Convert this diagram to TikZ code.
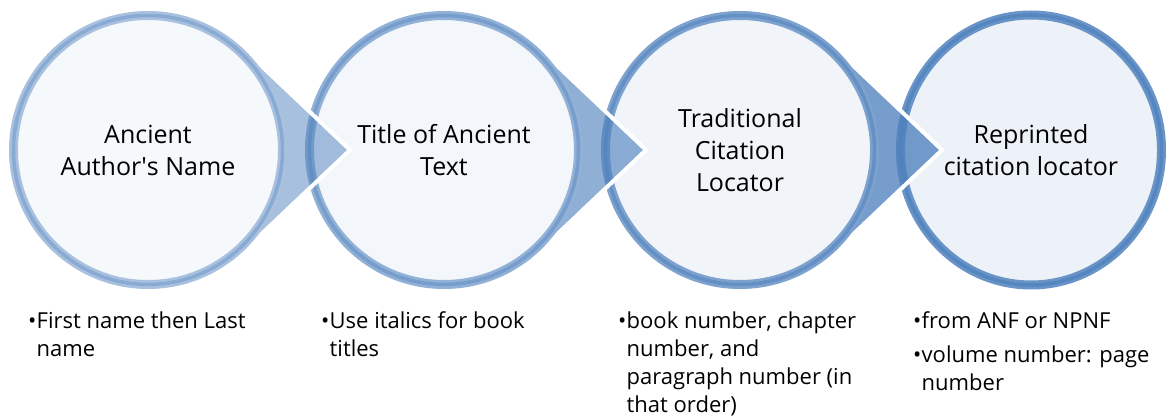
\documentclass[tikz,border=0pt]{standalone}
\usepackage{fontspec}
\setmainfont{Open Sans}
\usepackage{xcolor}
\usepackage{tikz}
\usetikzlibrary{positioning,calc,shapes.geometric}
\definecolor{accent}{HTML}{4F81BD}
\tikzstyle{stage} = [circle, inner sep=0pt, minimum size=269pt, line width=9pt,
    align=center, font=\fontsize{25}{32}\selectfont]
\tikzstyle{pointer} = [fill=accent]
\tikzstyle{edge} = [draw=white, line width=4pt, line join=miter]
\tikzstyle{notes} = [anchor=north west, align=left, inner sep=0pt,
    font=\fontsize{22}{28}\selectfont]
\newcommand{\bul}{\strut\makebox[8.5pt][l]{\fontsize{22}{22}\selectfont\textbullet}}
\newcommand{\ind}{\hspace*{8.5pt}}

\begin{document}
\begin{tikzpicture}[x=1pt, y=1pt, node distance=296pt]
\useasboundingbox (0,0) rectangle (1166,418);
    % Merkezleri yerleştir
    \coordinate (c1) at (148,268);
    \coordinate [right of=c1] (c2);
    \coordinate [right of=c2] (c3);
    \coordinate [right of=c3] (c4);
    % Sağdan sola: çember, sonra ok
    \node [stage, ellipse, minimum width=261pt, minimum height=270pt,
        draw=accent!85!white, fill=accent!10!white,
        postaction={draw=accent!96!white, line width=3.5pt}] (reprint) at ($(c4)+(-5,0)$)
        {Reprinted\\citation locator};
    \path [pointer, fill opacity=0.78] ($(c3)+(46.5:139pt)$) -- ($(c3)+(202,0)$)
        -- ($(c3)+(-46.5:139pt)$) -- (c3) -- cycle;
    \draw [edge] ($(c3)+(46.5:139pt)$) -- ($(c3)+(202,0)$) -- ($(c3)+(-46.5:139pt)$);
    \node [stage, draw=accent!74!white, fill=accent!8!white,
        postaction={draw=accent!88!white, line width=3.5pt}] (locator) at (c3)
        {Traditional\\Citation\\Locator};
    \path [pointer, fill opacity=0.63] ($(c2)+(46.5:139pt)$) -- ($(c2)+(202,0)$)
        -- ($(c2)+(-46.5:139pt)$) -- (c2) -- cycle;
    \draw [edge] ($(c2)+(46.5:139pt)$) -- ($(c2)+(202,0)$) -- ($(c2)+(-46.5:139pt)$);
    \node [stage, draw=accent!62!white, fill=accent!7!white,
        postaction={draw=accent!78!white, line width=3.5pt}] (title) at (c2)
        {Title of Ancient\\Text};
    \path [pointer, fill opacity=0.5] ($(c1)+(46.5:139pt)$) -- ($(c1)+(202,0)$)
        -- ($(c1)+(-46.5:139pt)$) -- (c1) -- cycle;
    \draw [edge] ($(c1)+(46.5:139pt)$) -- ($(c1)+(202,0)$) -- ($(c1)+(-46.5:139pt)$);
    \node [stage, draw=accent!49!white, fill=accent!5!white,
        postaction={draw=accent!67!white, line width=3.5pt}] (author) at (c1)
        {Ancient\\Author\textquotesingle s Name};
    % Açıklamalar
    \node [notes] (authornote) at ($(c1)+(-120,-159)$)
        {\bul First name then Last\\\ind name};
    \node [notes] (titlenote) at ($(c2)+(-123,-159)$)
        {\bul Use italics for book\\\ind titles};
    \node [notes] (locatornote) at ($(c3)+(-122,-159)$)
        {\bul book number, chapter\\\ind number, and\\\ind paragraph number (in\\\ind that order)};
    \node [notes] (reprintnote) at ($(c4)+(-123,-159)$)
        {\bul from ANF or NPNF\\[6pt]\bul volume number: page\\\ind number};
\end{tikzpicture}
\end{document}
